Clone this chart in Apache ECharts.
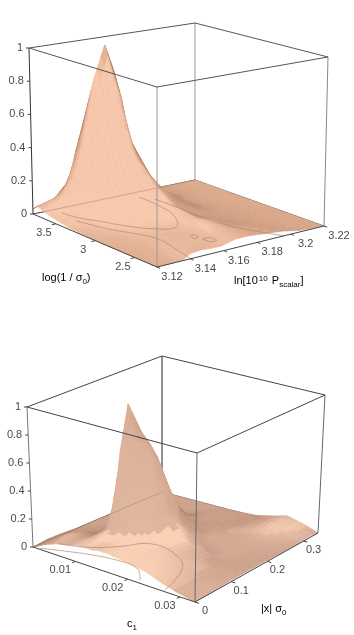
<!DOCTYPE html>
<html>
<head>
<meta charset="utf-8">
<style>
html, body { margin: 0; padding: 0; background: #fff; }
#main { width: 354px; height: 635px; filter: blur(0.4px); }
</style>
<script src="https://cdn.jsdelivr.net/npm/echarts@6/dist/echarts.min.js"></script>
</head>
<body>
<div id="main"></div>
<script>
/*------------ upper plot: likelihood over ln[10^10 P] and log(1/s0) ------------*/
var pAxis = [3.12, 3.13, 3.136, 3.14, 3.147, 3.154, 3.159, 3.163, 3.167, 3.175, 3.185, 3.195, 3.205, 3.22];
var logAxis = [2.22, 2.377, 2.534, 2.691, 2.927, 3.162, 3.35, 3.46, 3.555, 3.65, 3.73, 3.79];
var upperZ = [
    [0, 0, .005, .03, .035, .03, .03, .04, .05, .05, .04, .03, .01, 0],
    [0, .005, .01, .03, .045, .05, .05, .05, .06, .05, .04, .025, .01, 0],
    [0, .005, .015, .03, .05, .06, .07, .08, .105, .07, .04, .02, .01, 0],
    [0, .005, .015, .028, .045, .065, .08, .105, .09, .06, .035, .02, .01, 0],
    [0, .01, .02, .035, .05, .075, .1, .13, .1, .06, .03, .015, .005, 0],
    [.005, .015, .04, .08, .11, .15, .19, .21, .18, .12, .04, .015, .005, 0],
    [.01, .05, .09, .13, .28, .40, .40, .345, .27, .13, .03, .015, .005, 0],
    [.02, .05, .12, .33, .60, .81, .68, .45, .36, .2, .05, .015, .005, 0],
    [.03, .06, .22, .42, .80, 1, .84, .55, .33, .2, .04, .012, .004, 0],
    [.04, .07, .2, .36, .60, .77, .60, .4, .22, .09, .03, .01, .003, 0],
    [.06, .08, .14, .16, .27, .32, .26, .15, .09, .05, .02, .008, .002, 0],
    [.03, .06, .06, .07, .08, .09, .08, .06, .04, .02, .01, .005, 0, 0]
];
var pTicks = [3.12, 3.14, 3.16, 3.18, 3.2, 3.22];
var logTicks = [3.5, 3, 2.5];
var upperContours = [
    [[3.133, 3.696], [3.135, 3.517], [3.14, 3.366], [3.145, 3.186], [3.155, 2.958], [3.165, 2.911], [3.175, 3.146], [3.179, 3.429], [3.18, 3.68]],
    [[3.131, 3.476], [3.136, 3.178], [3.146, 2.77], [3.143, 2.448], [3.14, 2.22]],
    [[3.184, 3.57], [3.1845, 3.335], [3.184, 3.036], [3.186, 2.66], [3.196, 2.22]],
    [[3.1614, 2.664], [3.1638, 2.666], [3.1636, 2.609], [3.1603, 2.59], [3.1614, 2.664]],
    [[3.1633, 2.553], [3.1669, 2.54], [3.1668, 2.451], [3.1633, 2.465], [3.1633, 2.553]]
];

/*------------ lower plot: likelihood over |x| s0 and c1 ------------*/
var xAxisVals = [0, .034, .068, .095, .116, .15, .17, .19, .218, .245, .272, .299, .32, .34];
var cAxisVals = [.0329, .0298, .0267, .0236, .0205, .018, .0159, .0143, .0134, .0121, .0106, .0087, .0065, .0044, .0019];
var lowerZ = [
    [0, .002, .005, .01, .01, .01, .01, .01, .008, .005, .005, .005, .01, 0],
    [.02, .02, .02, .015, .015, .012, .01, .01, .01, .012, .015, .025, .04, .04],
    [.05, .05, .04, .035, .035, .012, .015, .018, .018, .02, .03, .05, .065, .065],
    [.09, .09, .08, .07, .055, .045, .018, .022, .028, .03, .035, .035, .035, .035],
    [.11, .115, .11, .1, .085, .07, .05, .012, .024, .03, .025, .02, .015, .01],
    [.12, .13, .13, .14, .15, .18, .14, .08, .025, .02, .015, .01, .01, .005],
    [.13, .135, .14, .17, .22, .32, .26, .15, .05, .02, .01, .01, .005, 0],
    [.13, .14, .15, .22, .38, .5, .42, .3, .12, .03, .01, .005, .005, 0],
    [.12, .13, .16, .3, .6, .66, .56, .42, .2, .06, .02, .005, 0, 0],
    [.12, .13, .16, .7, 1, .76, .66, .54, .3, .12, .01, 0, 0, 0],
    [.12, .13, .14, .2, .55, .4, .3, .2, .1, .03, 0, 0, 0, 0],
    [.1, .1, .06, .05, .06, .05, .04, .03, .01, 0, 0, 0, 0, 0],
    [.08, .11, .09, .04, .02, .01, .005, 0, 0, 0, 0, 0, 0, 0],
    [.05, .07, .05, .02, .01, 0, 0, 0, 0, 0, 0, 0, 0, 0],
    [0, .01, .01, .005, 0, 0, 0, 0, 0, 0, 0, 0, 0, 0]
];
var xTicks = [0, 0.1, 0.2, 0.3];
var cTicks = [0.01, 0.02, 0.03];
var lowerContours = [
    [[.0405, .0037], [.0612, .0079], [.1054, .0118], [.1329, .0132], [.1445, .0162], [.1258, .0208], [.0986, .0236], [.0466, .0258], [.0054, .0267]],
    [[.0041, .003], [.0377, .0096], [.0507, .015], [.0439, .0188], [.0102, .0217]]
];

var zTicks = [0, 0.2, 0.4, 0.6, 0.8, 1];

var chart = echarts.init(document.getElementById('main'));

// box corners in screen pixels: F front, R right, L left, B back, low and high
var upper = {
    aVals: pAxis, bVals: logAxis, zRows: upperZ, contours: upperContours,
    aMin: 3.12, aMax: 3.22, bAt0: 2.22, bAt1: 3.79,
    low: { F: [157, 267], R: [324, 226], L: [33, 214], B: [195, 180] },
    high: { F: [157, 87], R: [328, 57], L: [29, 48], B: [195, 23] },
    light: [-.567, -.756, .32], zScale: .89,
    ramp: { dark: [176, 130, 106], floor: [222, 172, 142], bright: [247, 200, 172], tFloor: .32, tBright: .62 },
    edgeColors: { L: '#333', F: '#999', R: '#888', B: '#999', top: '#555', floor: '#444' }
};
var lower = {
    aVals: xAxisVals, bVals: cAxisVals, zRows: lowerZ, contours: lowerContours,
    aMin: 0, aMax: .34, bAt0: .0329, bAt1: .0019,
    low: { F: [195, 602], R: [318, 533], L: [33, 547], B: [162, 492] },
    high: { F: [197, 453], R: [325, 395], L: [27, 407], B: [162, 356] },
    light: [-.72, -.54, .44], zScale: .79,
    ramp: { dark: [168, 124, 100], floor: [205, 162, 140], bright: [250, 208, 181], tFloor: .44, tBright: .74 },
    heightTint: true,
    edgeColors: { L: '#777', F: '#666', R: '#666', B: '#222', top: '#444', floor: '#444' }
};

function mix(p, q, s) { return p + (q - p) * s; }

function bilinear(c, a, b) {
    return [
        (1 - a) * (1 - b) * c.F[0] + a * (1 - b) * c.R[0] + (1 - a) * b * c.L[0] + a * b * c.B[0],
        (1 - a) * (1 - b) * c.F[1] + a * (1 - b) * c.R[1] + (1 - a) * b * c.L[1] + a * b * c.B[1]
    ];
}

// a, b and z all as 0..1 fractions of the box
function project(panel, a, b, z) {
    var p = bilinear(panel.low, a, b), q = bilinear(panel.high, a, b);
    return [mix(p[0], q[0], z), mix(p[1], q[1], z)];
}

function fracA(panel, v) { return (v - panel.aMin) / (panel.aMax - panel.aMin); }
function fracB(panel, v) { return (v - panel.bAt0) / (panel.bAt1 - panel.bAt0); }

function shade(panel, t, z) {
    var r = panel.ramp, s, c;
    if (panel.heightTint) {
        // the raised part reads as one flat orange, the low hill in front of it is paler
        if (z >= .155) t = .53 + .12 * (Math.min(Math.max(t, 0), 1) - .5);
        else if (z >= .03) t += Math.min(z / .1, 1) * .2;
    }
    if (t < r.tFloor) {
        s = Math.max(t / r.tFloor, 0);
        c = [mix(r.dark[0], r.floor[0], s), mix(r.dark[1], r.floor[1], s), mix(r.dark[2], r.floor[2], s)];
    } else {
        s = Math.min((t - r.tFloor) / (r.tBright - r.tFloor), 1);
        c = [mix(r.floor[0], r.bright[0], s), mix(r.floor[1], r.bright[1], s), mix(r.floor[2], r.bright[2], s)];
    }
    return 'rgb(' + Math.round(c[0]) + ',' + Math.round(c[1]) + ',' + Math.round(c[2]) + ')';
}

// light falling on a grid vertex, from the slopes around it
function vertexLight(panel, i, j) {
    var z = panel.zRows, n = panel.aVals.length - 1, m = panel.bVals.length - 1;
    var i0 = Math.max(i - 1, 0), i1 = Math.min(i + 1, n), j0 = Math.max(j - 1, 0), j1 = Math.min(j + 1, m);
    var dA = (z[j][i1] - z[j][i0]) / (fracA(panel, panel.aVals[i1]) - fracA(panel, panel.aVals[i0])) * panel.zScale;
    var dB = (z[j1][i] - z[j0][i]) / (fracB(panel, panel.bVals[j1]) - fracB(panel, panel.bVals[j0])) * panel.zScale;
    var l = panel.light;
    return (-dA * l[0] - dB * l[1] + l[2]) / Math.sqrt(dA * dA + dB * dB + 1);
}

function quadMix(v, s, u) {
    return (1 - s) * (1 - u) * v[0] + s * (1 - u) * v[1] + s * u * v[2] + (1 - s) * u * v[3];
}

function surfaceSeries(panel) {
    var cells = [], STEPS = 3;
    // back corner first, the front corner is painted last
    for (var j = panel.bVals.length - 2; j >= 0; j--) {
        for (var i = panel.aVals.length - 2; i >= 0; i--) cells.push([i, j]);
    }
    return {
        type: 'custom', coordinateSystem: 'cartesian2d', silent: true, z: 2,
        animation: false, clip: false, progressive: 0, data: cells,
        renderItem: function (params, api) {
            var i = api.value(0), j = api.value(1);
            var a0 = fracA(panel, panel.aVals[i]), a1 = fracA(panel, panel.aVals[i + 1]);
            var b0 = fracB(panel, panel.bVals[j]), b1 = fracB(panel, panel.bVals[j + 1]);
            var z = panel.zRows;
            var zs = [z[j][i], z[j][i + 1], z[j + 1][i + 1], z[j + 1][i]];
            var ts = [vertexLight(panel, i, j), vertexLight(panel, i + 1, j), vertexLight(panel, i + 1, j + 1), vertexLight(panel, i, j + 1)];
            var p0 = api.coord(project(panel, a0, b0, zs[0])), p1 = api.coord(project(panel, a1, b0, zs[1]));
            var p2 = api.coord(project(panel, a1, b1, zs[2])), p3 = api.coord(project(panel, a0, b1, zs[3]));
            var xs = [p0[0], p1[0], p2[0], p3[0]], ys = [p0[1], p1[1], p2[1], p3[1]];
            var kids = [];
            for (var v = STEPS - 1; v >= 0; v--) {
                for (var k = STEPS - 1; k >= 0; k--) {
                    var s0 = k / STEPS, s1 = (k + 1) / STEPS, u0 = v / STEPS, u1 = (v + 1) / STEPS;
                    var sm = (s0 + s1) / 2, um = (u0 + u1) / 2;
                    var fill = shade(panel, quadMix(ts, sm, um), quadMix(zs, sm, um));
                    kids.push({
                        type: 'polygon',
                        shape: { points: [
                            [quadMix(xs, s0, u0), quadMix(ys, s0, u0)], [quadMix(xs, s1, u0), quadMix(ys, s1, u0)],
                            [quadMix(xs, s1, u1), quadMix(ys, s1, u1)], [quadMix(xs, s0, u1), quadMix(ys, s0, u1)]
                        ] },
                        style: { fill: fill, stroke: fill, lineWidth: .6 }
                    });
                }
            }
            return { type: 'group', children: kids };
        }
    };
}

function corner3(name, up) {
    return [name == 'R' || name == 'B' ? 1 : 0, name == 'L' || name == 'B' ? 1 : 0, up];
}

function edgeSeries(panel, edges, z) {
    return {
        type: 'custom', coordinateSystem: 'cartesian2d', silent: true, z: z,
        animation: false, clip: false, data: edges.map(function (e, n) { return [n]; }),
        renderItem: function (params, api) {
            var e = edges[api.value(0)];
            var p = project(panel, e[0][0], e[0][1], e[0][2]), q = project(panel, e[1][0], e[1][1], e[1][2]);
            var s = api.coord(p), f = api.coord(q);
            return {
                type: 'line', shape: { x1: s[0], y1: s[1], x2: f[0], y2: f[1] },
                style: { stroke: e[2], lineWidth: 1, opacity: e[3] || 1 }
            };
        }
    };
}

function backEdges(panel) {
    var c = panel.edgeColors;
    return edgeSeries(panel, [
        [corner3('B', 0), corner3('B', 1), c.B],
        [corner3('L', 1), corner3('B', 1), c.top],
        [corner3('B', 1), corner3('R', 1), c.top],
        [corner3('L', 0), corner3('B', 0), c.floor],
        [corner3('B', 0), corner3('R', 0), c.floor]
    ], 1);
}

function frontEdges(panel) {
    var c = panel.edgeColors;
    return edgeSeries(panel, [
        [corner3('L', 0), corner3('B', 0), '#7a5a48', .3],
        [corner3('L', 0), corner3('L', 1), c.L],
        [corner3('R', 0), corner3('R', 1), c.R],
        [corner3('F', 0), corner3('F', 1), c.F],
        [corner3('L', 1), corner3('F', 1), c.top],
        [corner3('F', 1), corner3('R', 1), c.top],
        [corner3('F', 0), corner3('L', 0), c.floor],
        [corner3('F', 0), corner3('R', 0), c.floor]
    ], 3);
}

function contourSeries(panel) {
    return {
        type: 'custom', coordinateSystem: 'cartesian2d', silent: true, z: 3,
        animation: false, clip: false, data: panel.contours.map(function (c, n) { return [n]; }),
        renderItem: function (params, api) {
            var line = panel.contours[api.value(0)].map(function (p) {
                return api.coord(project(panel, fracA(panel, p[0]), fracB(panel, p[1]), 0));
            });
            return {
                type: 'polyline', shape: { points: line, smooth: .4 },
                style: { stroke: '#b08a72', fill: null, lineWidth: .7 }
            };
        }
    };
}

// kind: 'a' ticks along F-R, 'b' along F-L, 'z' up the left edge
function tickSeries(panel, kind, ticks, dx, dy) {
    return {
        type: 'custom', coordinateSystem: 'cartesian2d', silent: true, z: 4,
        animation: false, clip: false, data: ticks.map(function (t) { return [t]; }),
        renderItem: function (params, api) {
            var v = api.value(0), from, to;
            if (kind == 'a') {
                from = project(panel, fracA(panel, v), 0, 0);
                to = project(panel, fracA(panel, v), -.025, 0);
            } else if (kind == 'b') {
                from = project(panel, 0, fracB(panel, v), 0);
                to = project(panel, -.025, fracB(panel, v), 0);
            } else {
                from = project(panel, 0, 1, v);
                to = [from[0] - 3, from[1]];
            }
            var s = api.coord(from), f = api.coord(to);
            var labelPos = api.coord([from[0] + dx, from[1] + dy]);
            return {
                type: 'group',
                children: [
                    { type: 'line', shape: { x1: s[0], y1: s[1], x2: f[0], y2: f[1] }, style: { stroke: '#444', lineWidth: 1 } },
                    {
                        type: 'text', x: labelPos[0], y: labelPos[1],
                        style: {
                            text: String(v), fill: '#4a4a4a', fontSize: 11, fontFamily: 'Liberation Sans',
                            align: kind == 'z' ? 'right' : 'center', verticalAlign: 'middle'
                        }
                    }
                ]
            };
        }
    };
}

var richTitle = {
    t: { fontSize: 11, fontFamily: 'Liberation Sans', color: '#4a4a4a' },
    sub: { fontSize: 8, fontFamily: 'Liberation Sans', color: '#4a4a4a', padding: [7, 0, 0, 0] },
    sup: { fontSize: 8, fontFamily: 'Liberation Sans', color: '#4a4a4a', padding: [0, 1, 5, 1] }
};

function titleText(x, y, text) {
    return {
        type: 'text', x: x, y: y, silent: true, z: 5,
        style: { text: text, rich: richTitle, align: 'left', verticalAlign: 'middle' }
    };
}

var option = {
    animation: false,
    grid: { left: 0, right: 0, top: 0, bottom: 0 },
    xAxis: { type: 'value', min: 0, max: 354, show: false },
    yAxis: { type: 'value', min: 0, max: 635, inverse: true, show: false },
    graphic: [
        titleText(42, 278, '{t|log(1 / σ}{sub|0}{t|)}'),
        titleText(234, 281, '{t|ln[10}{sup|10}{t| P}{sub|scalar}{t|]}'),
        titleText(127, 624, '{t|c}{sub|1}'),
        titleText(261, 609, '{t||x| σ}{sub|0}')
    ],
    series: [
        backEdges(upper), surfaceSeries(upper), contourSeries(upper), frontEdges(upper),
        tickSeries(upper, 'z', zTicks, -6, 0),
        tickSeries(upper, 'a', pTicks, 15, 10),
        tickSeries(upper, 'b', logTicks, -12, 9),
        backEdges(lower), surfaceSeries(lower), contourSeries(lower), frontEdges(lower),
        tickSeries(lower, 'z', zTicks, -6, 0),
        tickSeries(lower, 'a', xTicks, 10, 9),
        tickSeries(lower, 'b', cTicks, -15, 9)
    ]
};

chart.setOption(option);
</script>
</body>
</html>
